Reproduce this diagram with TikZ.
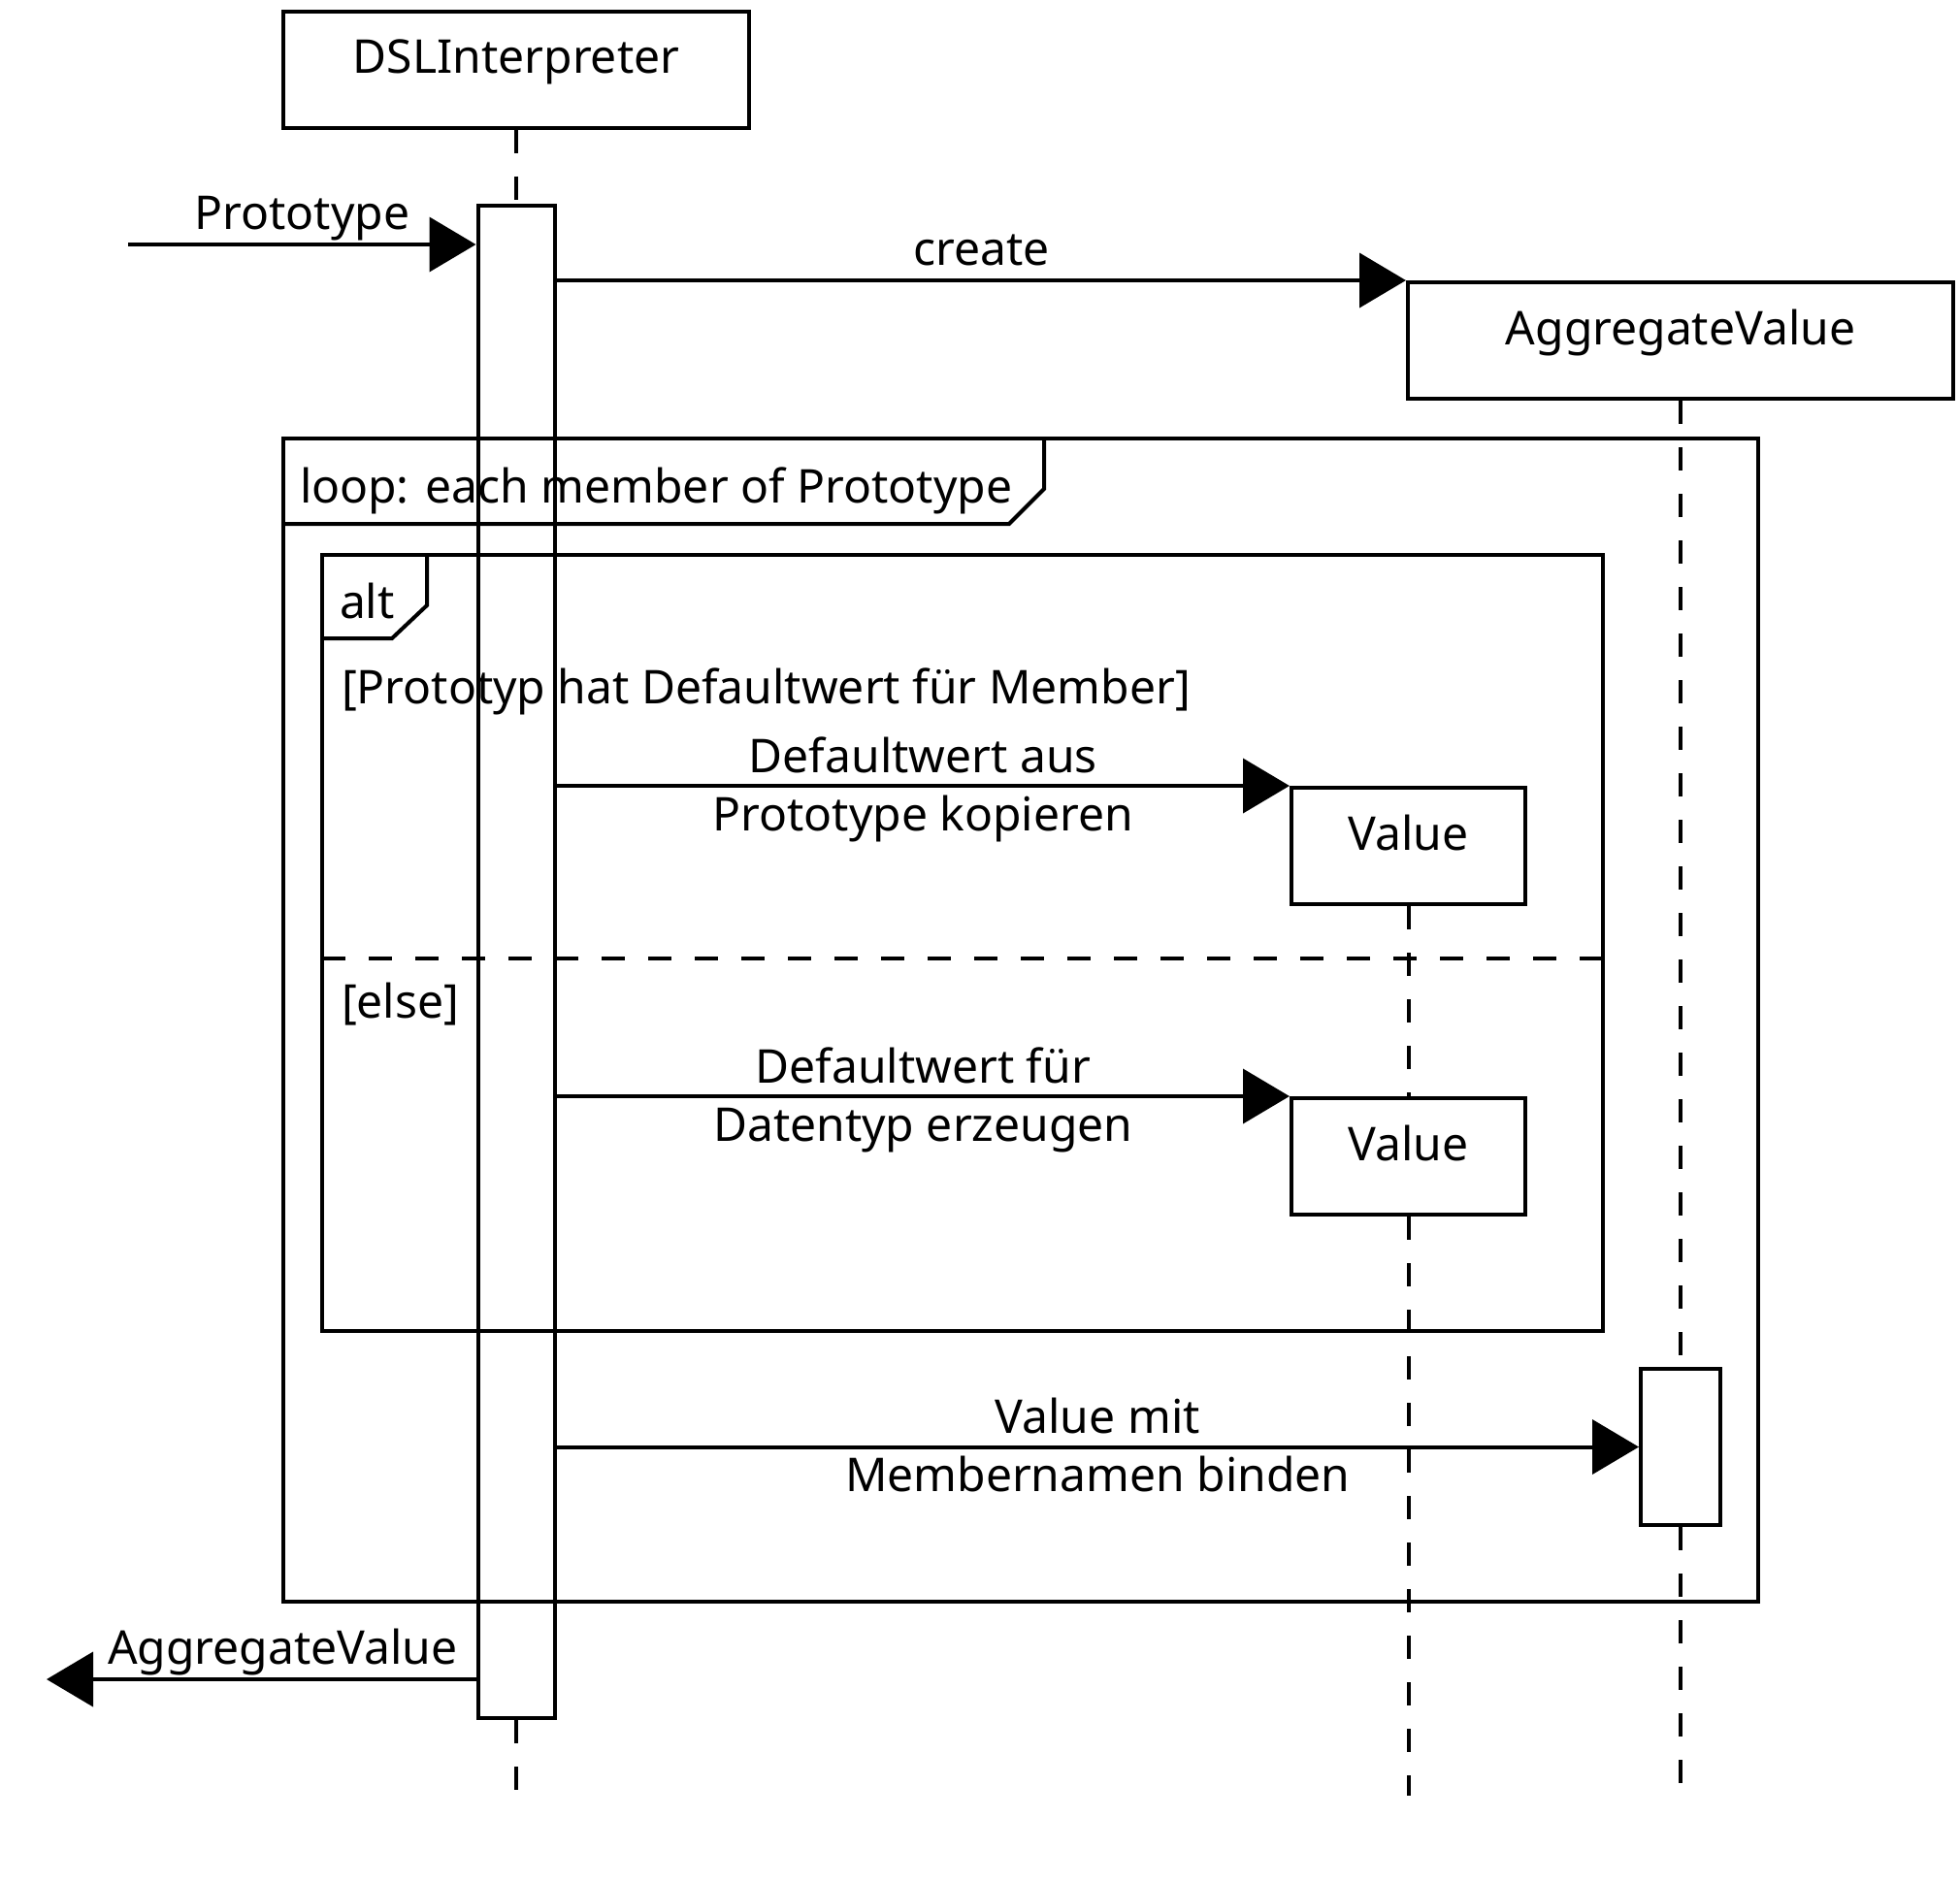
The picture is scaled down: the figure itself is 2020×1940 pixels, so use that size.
\documentclass[tikz,border=0pt]{standalone}
\usepackage{fontspec}
\setmainfont{Noto Sans}
\usepackage{tikz}
\usetikzlibrary{arrows.meta}

\begin{document}
\begin{tikzpicture}[x=0.5pt, y=-0.5pt,
    font=\fontsize{24}{30}\selectfont,
    every path/.style={line width=2pt},
    lifebox/.style={draw, line width=2pt, minimum height=60pt, text height=0.75em, text depth=0.33em},
    actbox/.style={draw, line width=2pt, minimum width=39.5pt, inner sep=0pt},
    lifeline/.style={dash pattern=on 12pt off 12pt},
    msg/.style={-{Triangle[length=24pt, width=28pt]}},
    msglbl/.style={inner sep=0pt, align=center, yshift=-2pt},
    framelbl/.style={anchor=base west, inner sep=0pt}]
    \useasboundingbox (0,0) rectangle (2020,1940);
    % lifelines
    \node[lifebox, minimum width=240pt] (dsl) at (532,71.5) {DSLInterpreter};
    \node[lifebox, minimum width=281pt] (agg) at (1732,351) {AggregateValue};
    \node[lifebox, minimum width=120.5pt] (val1) at (1451.5,872) {Value};
    \node[lifebox, minimum width=120.5pt] (val2) at (1451.5,1192) {Value};
    \node[actbox, minimum height=779.5pt] (dslact) at (532,991.5) {};
    \node[actbox, minimum width=41pt, minimum height=80.5pt] (aggact) at (1732,1491.5) {};
    \coordinate (dslend) at (532,1851);
    \coordinate (aggend) at (1732,1851);
    \coordinate (valend) at (1451.5,1851);
    \draw[lifeline] (dsl.south) -- (dslact.north);
    \draw[lifeline] (dslact.south) -- (dslend);
    \draw[lifeline] (agg.south) -- (aggact.north);
    \draw[lifeline] (aggact.south) -- (aggend);
    \draw[lifeline] (val1.south) -- (val2.north);
    \draw[lifeline] (val2.south) -- (valend);
    % frames
    \draw (292,452) rectangle (1812,1651);
    \draw (292,540) -- (1040,540) -- (1076,504) -- (1076,452);
    \node[framelbl] (looplbl) at (307,518) {loop: each member of Prototype};
    \draw (332,572) rectangle (1652,1372);
    \draw (332,658) -- (404,658) -- (440,624) -- (440,572);
    \node[framelbl] (altlbl) at (348,637) {alt};
    \node[framelbl] (guard) at (350,725) {[Prototyp hat Defaultwert für Member]};
    \draw[lifeline] (332,988) -- (1652,988);
    \node[framelbl] (elselbl) at (350,1049) {[else]};
    % messages
    \coordinate (in) at (132,252);
    \coordinate (out) at (48,1731);
    \draw[msg] (in) -- (in -| dslact.west)
        node[msglbl, midway, above] {\strut Prototype};
    \draw[msg] (dslact.east |- agg.north) -- (agg.north west)
        node[msglbl, midway, above] {\strut create};
    \draw[msg] (dslact.east |- val1.north) -- (val1.north west)
        node[msglbl, midway] {\strut Defaultwert aus\\\strut Prototype kopieren};
    \draw[msg] (dslact.east |- val2.north) -- (val2.north west)
        node[msglbl, midway] {\strut Defaultwert für\\\strut Datentyp erzeugen};
    \draw[msg] (dslact.east |- aggact.west) -- (aggact.west)
        node[msglbl, midway] {\strut Value mit\\\strut Membernamen binden};
    \draw[msg] (dslact.west |- out) -- (out)
        node[msglbl, pos=0.45, above] {\strut AggregateValue};
\end{tikzpicture}
\end{document}
